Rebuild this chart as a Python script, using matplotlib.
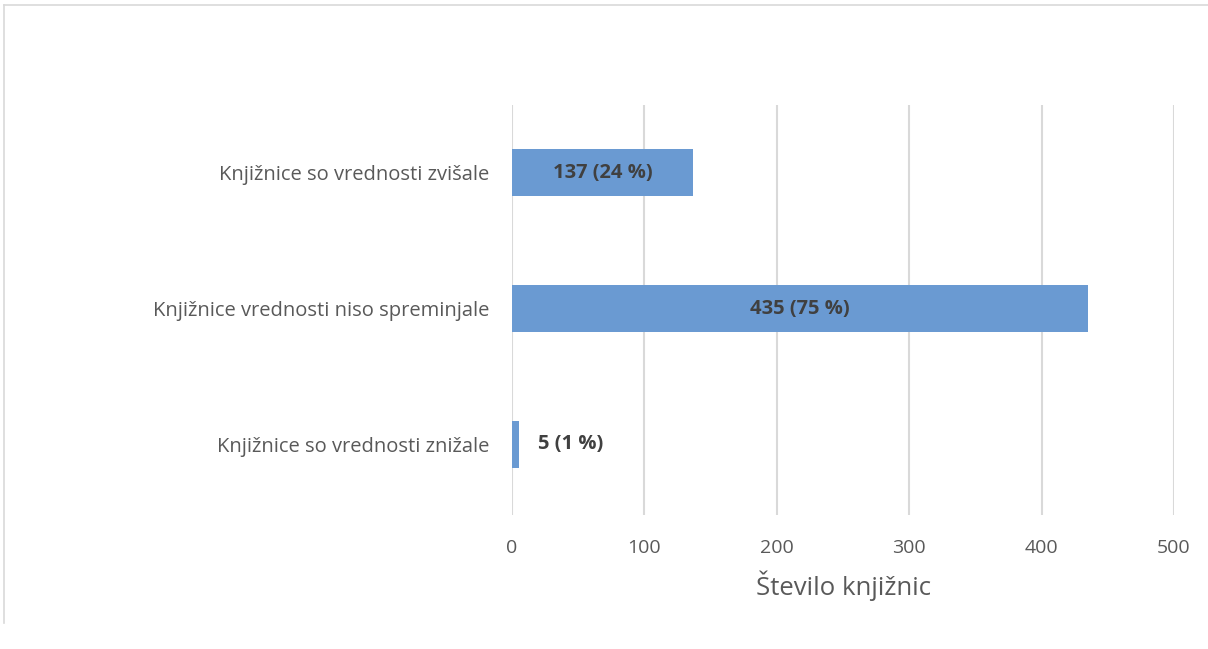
import matplotlib.pyplot as plt
from matplotlib.lines import Line2D

categories = ['Knjižnice so vrednosti znižale',
              'Knjižnice vrednosti niso spreminjale',
              'Knjižnice so vrednosti zvišale']
values = [5, 435, 137]
labels = ['5 (1 %)', '435 (75 %)', '137 (24 %)']

plt.rcParams['font.family'] = ['Open Sans', 'DejaVu Sans']

fig = plt.figure(figsize=(12.08, 6.49), dpi=100)
ax = fig.add_axes([0.4238, 0.2065, 0.5481, 0.6317])

ypos = range(len(categories))
bars = ax.barh(ypos, values, height=0.345, color='#6a9ad2', zorder=3)

for i, (v, lab) in enumerate(zip(values, labels)):
    if v > 50:
        ax.text(v / 2, i, lab, ha='center', va='center', fontsize=14.5,
                fontweight='bold', color='#404040', zorder=4)
    else:
        ax.text(v + 15, i, lab, ha='left', va='center', fontsize=14.5,
                fontweight='bold', color='#404040', zorder=4)

ax.set_xlim(0, 500)
ax.set_ylim(-0.52, 2.5)
ax.set_xticks([0, 100, 200, 300, 400, 500])
ax.set_yticks(list(ypos))
ax.set_yticklabels(categories)
ax.grid(axis='x', color='#d9d9d9', linewidth=1.5, zorder=0)
for s in ax.spines.values():
    s.set_visible(False)
ax.tick_params(axis='both', length=0, colors='#595959')
ax.tick_params(axis='x', pad=17, labelsize=14)
ax.tick_params(axis='y', pad=16, labelsize=14.5)
ax.set_xlabel('Število knjižnic', fontsize=18.5, color='#595959', labelpad=10)

# outer frame (top and left edge)
fig.add_artist(Line2D([0.003, 1.0], [0.992, 0.992], color='#d9d9d9', lw=1.2, transform=fig.transFigure))
fig.add_artist(Line2D([0.003, 0.003], [0.04, 0.992], color='#d9d9d9', lw=1.2, transform=fig.transFigure))

fig.savefig('out.png', dpi=100)
